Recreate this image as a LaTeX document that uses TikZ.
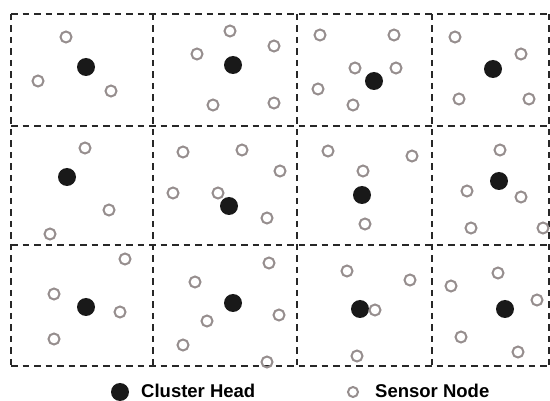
\documentclass[tikz,border=0pt]{standalone}
\usepackage{fontspec}
\setmainfont{Liberation Sans}
\usepackage{xcolor}
\definecolor{sensorgray}{RGB}{150,142,142}
\definecolor{gridgray}{RGB}{40,40,40}

\begin{document}
\begin{tikzpicture}[x=1pt,y=-1pt,
    head/.style={circle,fill=black!90,inner sep=0pt,minimum size=18pt},
    sensor/.style={circle,draw=sensorgray,line width=2pt,inner sep=0pt,minimum size=11pt},
    gridline/.style={gridgray,line width=1.9pt,dash pattern=on 6.5pt off 5pt},
    legend/.style={anchor=base west,inner sep=0pt,font=\fontsize{18.5}{22}\selectfont\bfseries}]
  \useasboundingbox (0,0) rectangle (550,401);

  % dashed grid of the field
  \foreach \x in {11,153,297,432,549}
    \draw[gridline] (\x,14) -- (\x,366);
  \foreach \y in {14,126,245,366}
    \draw[gridline] (11,\y) -- (549,\y);

  % row 1
  \node[sensor] (s1) at (66,37) {};
  \node[head]   (h1) at (86,67) {};
  \node[sensor] (s2) at (38,81) {};
  \node[sensor] (s3) at (111,91) {};

  \node[sensor] (s4) at (230,31) {};
  \node[sensor] (s5) at (197,54) {};
  \node[head]   (h2) at (233,65) {};
  \node[sensor] (s6) at (274,46) {};
  \node[sensor] (s7) at (213,105) {};
  \node[sensor] (s8) at (274,103) {};

  \node[sensor] (s9) at (320,35) {};
  \node[sensor] (s10) at (394,35) {};
  \node[sensor] (s11) at (355,68) {};
  \node[sensor] (s12) at (396,68) {};
  \node[head]   (h3) at (374,81) {};
  \node[sensor] (s13) at (318,89) {};
  \node[sensor] (s14) at (353,105) {};

  \node[sensor] (s15) at (455,37) {};
  \node[sensor] (s16) at (521,54) {};
  \node[head]   (h4) at (493,69) {};
  \node[sensor] (s17) at (459,99) {};
  \node[sensor] (s18) at (529,99) {};

  % row 2
  \node[sensor] (s19) at (85,148) {};
  \node[head]   (h5) at (67,177) {};
  \node[sensor] (s20) at (109,210) {};
  \node[sensor] (s21) at (50,234) {};

  \node[sensor] (s22) at (183,152) {};
  \node[sensor] (s23) at (242,150) {};
  \node[sensor] (s24) at (280,171) {};
  \node[sensor] (s25) at (173,193) {};
  \node[sensor] (s26) at (218,193) {};
  \node[head]   (h6) at (229,206) {};
  \node[sensor] (s27) at (267,218) {};

  \node[sensor] (s28) at (328,151) {};
  \node[sensor] (s29) at (412,156) {};
  \node[sensor] (s30) at (363,171) {};
  \node[head]   (h7) at (362,195) {};
  \node[sensor] (s31) at (365,224) {};

  \node[sensor] (s32) at (500,150) {};
  \node[head]   (h8) at (499,181) {};
  \node[sensor] (s33) at (467,191) {};
  \node[sensor] (s34) at (521,197) {};
  \node[sensor] (s35) at (471,228) {};
  \node[sensor] (s36) at (543,228) {};

  % row 3
  \node[sensor] (s37) at (125,259) {};
  \node[sensor] (s38) at (54,294) {};
  \node[head]   (h9) at (86,307) {};
  \node[sensor] (s39) at (120,312) {};
  \node[sensor] (s40) at (54,339) {};

  \node[sensor] (s41) at (269,263) {};
  \node[sensor] (s42) at (195,282) {};
  \node[head]   (h10) at (233,303) {};
  \node[sensor] (s43) at (279,315) {};
  \node[sensor] (s44) at (207,321) {};
  \node[sensor] (s45) at (183,345) {};
  \node[sensor] (s46) at (267,362) {};

  \node[sensor] (s47) at (347,271) {};
  \node[sensor] (s48) at (410,280) {};
  \node[head]   (h11) at (360,309) {};
  \node[sensor] (s49) at (375,310) {};
  \node[sensor] (s50) at (357,356) {};

  \node[sensor] (s51) at (498,273) {};
  \node[sensor] (s52) at (451,286) {};
  \node[sensor] (s53) at (537,300) {};
  \node[head]   (h12) at (505,309) {};
  \node[sensor] (s54) at (461,337) {};
  \node[sensor] (s55) at (518,352) {};

  % legend
  \node[head] (lhead) at (120,392) {};
  \node[legend] (lheadtxt) at (141,398) {Cluster Head};
  \node[sensor,minimum size=10pt] (lsensor) at (353,392) {};
  \node[legend] (lsensortxt) at (375,398) {Sensor Node};
\end{tikzpicture}
\end{document}
